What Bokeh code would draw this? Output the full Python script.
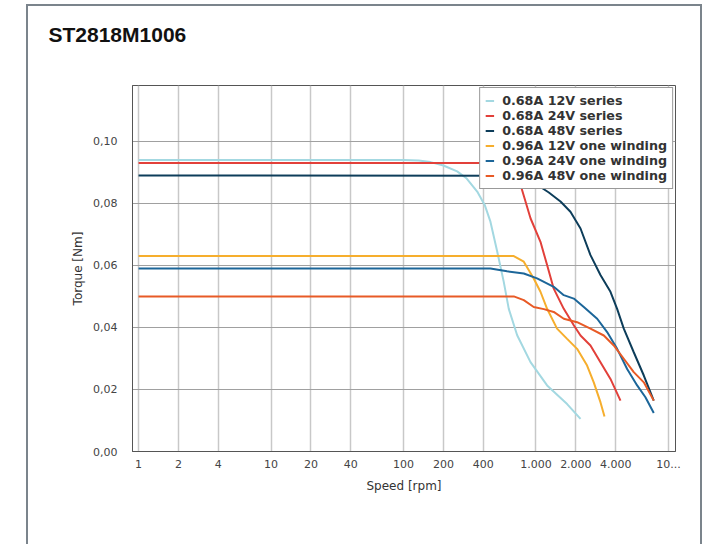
from bokeh.plotting import figure
from bokeh.models import FixedTicker, CustomJSTickFormatter, Legend, LegendItem, Title
from bokeh.embed import file_html
from bokeh.resources import INLINE

# ---- data (speed in rpm, torque in Nm) ----
title_text = "ST2818M1006"
names = ["0.68A 12V series", "0.68A 24V series", "0.68A 48V series",
         "0.96A 12V one winding", "0.96A 24V one winding", "0.96A 48V one winding"]
colors = ["#a3d8e1", "#e2403a", "#0d3d5a", "#f6ae2d", "#1c6699", "#e85a26"]

s1_x = [1, 100, 130, 160, 200, 254, 300, 360, 410, 453, 510, 571, 623, 721, 909, 1213, 1718, 2168]
s1_y = [0.094, 0.094, 0.0938, 0.0933, 0.0922, 0.0903, 0.088, 0.0838, 0.0795, 0.0741, 0.0644, 0.0547, 0.046, 0.0375, 0.0288, 0.0213, 0.0153, 0.0105]

s2_x = [1, 550, 650, 764, 909, 1081, 1213, 1361, 1621, 1929, 2168, 2578, 3066, 3649, 4343]
s2_y = [0.093, 0.093, 0.091, 0.086, 0.0752, 0.0676, 0.0601, 0.0525, 0.046, 0.0407, 0.0374, 0.0342, 0.0288, 0.0234, 0.0164]

s3_x = [1, 850, 950, 1019, 1250, 1531, 1820, 2168, 2578, 3066, 3649, 4097, 4600, 5470, 6515, 7745]
s3_y = [0.089, 0.0889, 0.0875, 0.086, 0.0835, 0.0806, 0.0773, 0.0719, 0.0633, 0.0569, 0.0515, 0.046, 0.0396, 0.032, 0.0245, 0.0164]

s4_x = [1, 680, 809, 961, 1081, 1213, 1442, 1718, 2043, 2431, 2729, 3066, 3289]
s4_y = [0.063, 0.063, 0.0612, 0.0558, 0.0515, 0.046, 0.0396, 0.0363, 0.0331, 0.0277, 0.0223, 0.0159, 0.0113]

s5_x = [1, 453, 605, 809, 1019, 1361, 1621, 1929, 2296, 2896, 3443, 4097, 4876, 5803, 6701, 7745]
s5_y = [0.059, 0.059, 0.0581, 0.0574, 0.0558, 0.0531, 0.0504, 0.0493, 0.0466, 0.0428, 0.0385, 0.0331, 0.0266, 0.0213, 0.0175, 0.0124]

s6_x = [1, 680, 809, 961, 1146, 1361, 1621, 2043, 2578, 3251, 3864, 4600, 5470, 6515, 7745]
s6_y = [0.050, 0.050, 0.0488, 0.0466, 0.0459, 0.045, 0.0428, 0.0417, 0.0396, 0.0374, 0.0342, 0.0299, 0.0256, 0.0223, 0.0164]

x_ticks = [1, 2, 4, 10, 20, 40, 100, 200, 400, 1000, 2000, 4000, 10000]
x_tick_labels = ["1", "2", "4", "10", "20", "40", "100", "200", "400", "1.000", "2.000", "4.000", "10..."]
y_ticks = [0.0, 0.02, 0.04, 0.06, 0.08, 0.10]

series_x = [s1_x, s2_x, s3_x, s4_x, s5_x, s6_x]
series_y = [s1_y, s2_y, s3_y, s4_y, s5_y, s6_y]

p = figure(width=676, height=540, x_axis_type="log",
           x_range=(0.9, 11300), y_range=(0, 0.118),
           output_backend="svg", toolbar_location=None,
           min_border_left=104, min_border_right=29,
           min_border_top=79, min_border_bottom=95)
p.margin = (4, 0, 0, 26)
p.styles = {"border-top": "2px solid #7b848c", "border-left": "2px solid #7b848c",
            "border-right": "2px solid #7b848c"}

p.title = Title(text=title_text, text_font="Liberation Sans", text_font_size="21px",
                text_font_style="bold", text_color="#111111", offset=-84, standoff=0,
                vertical_align="bottom",
                padding=dict(left=0, right=0, top=0, bottom=40))

items = []
for nm, c, xs, ys in zip(names, colors, series_x, series_y):
    r = p.line(xs, ys, line_color=c, line_width=2)
    items.append(LegendItem(label=nm, renderers=[r]))

legend = Legend(items=items, location="top_right", margin=2, padding=5,
                spacing=0, label_height=15, glyph_height=15, glyph_width=9,
                label_standoff=8, label_text_font="DejaVu Sans",
                label_text_font_size="12.7px", label_text_font_style="bold",
                label_text_color="#333333", border_line_color="#333333",
                border_line_width=1, background_fill_alpha=1)
p.add_layout(legend)

p.xaxis.ticker = FixedTicker(ticks=x_ticks)
p.xaxis.major_label_overrides = {t: l for t, l in zip(x_ticks, x_tick_labels)}
p.yaxis.ticker = FixedTicker(ticks=y_ticks)
p.yaxis.formatter = CustomJSTickFormatter(code="return tick.toFixed(2).replace('.', ',');")

for ax in (p.xaxis, p.yaxis):
    ax.major_tick_out = 0
    ax.major_tick_in = 0
    ax.minor_tick_out = 0
    ax.minor_tick_in = 0
    ax.axis_line_color = "#555555"
    ax.major_label_text_font = "DejaVu Sans"
    ax.major_label_text_font_size = "11px"
    ax.major_label_text_color = "#444444"
    ax.axis_label_text_font = "DejaVu Sans"
    ax.axis_label_text_font_size = "12px"
    ax.axis_label_text_font_style = "normal"
    ax.axis_label_text_color = "#333333"

p.xaxis.axis_label = "Speed [rpm]"
p.yaxis.axis_label = "Torque [Nm]"
p.xaxis.major_label_standoff = 8
p.xaxis.axis_label_standoff = 8
p.yaxis.major_label_standoff = 15
p.yaxis.axis_label_standoff = 5

p.xgrid.grid_line_color = "#c8c8c8"
p.xgrid.grid_line_width = 1.5
p.ygrid.grid_line_color = "#a0a0a0"
p.ygrid.grid_line_width = 1

p.outline_line_color = "#555555"
p.outline_line_width = 1

open("out.html", "w").write(file_html(p, INLINE))
